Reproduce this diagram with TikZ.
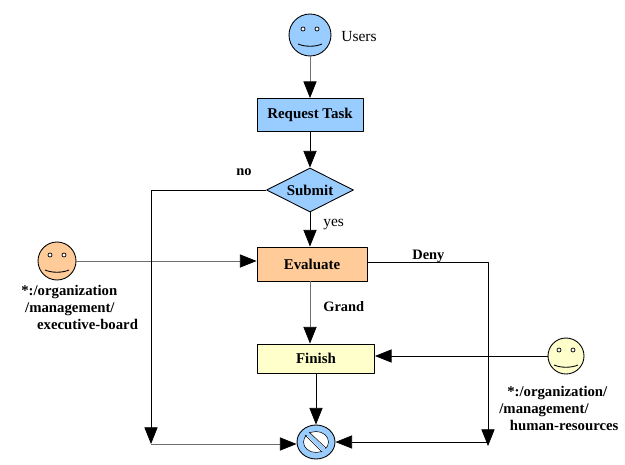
\documentclass[tikz,border=0pt]{standalone}
\usepackage{fontspec}
\setmainfont{Liberation Serif}
\usetikzlibrary{positioning}
\usetikzlibrary{arrows.meta, shapes.geometric}

\definecolor{skyfill}{HTML}{99CCFF}
\definecolor{peachfill}{HTML}{FFCC99}
\definecolor{creamfill}{HTML}{FFFFCC}
\definecolor{greyline}{HTML}{707070}

\tikzset{
  taskbox/.style={draw=black, rectangle, line width=0.5pt, inner sep=0pt, font=\bfseries\fontsize{8.5}{10}\selectfont},
  facenode/.style={draw=black, circle, line width=0.5pt, inner sep=0pt},
  flow/.style={-{Triangle[length=9.5pt, width=7.5pt, color=black]}, black, line width=0.45pt},
  flowgrey/.style={-{Triangle[length=9.5pt, width=7.5pt, color=black]}, greyline, line width=0.45pt},
  lbl/.style={font=\bfseries\fontsize{8.2}{10}\selectfont, inner sep=0pt},
  lblreg/.style={font=\fontsize{8.8}{10}\selectfont, inner sep=0pt},
  role/.style={font=\bfseries\fontsize{8.4}{9.7}\selectfont, align=left, inner sep=0pt},
  smile/.pic={
    \draw[fill=white, line width=0.4pt] (-7,6) circle (2) (7,6) circle (2);
    \draw[line width=0.5pt] (-12,-9) .. controls (-5,-12) and (5,-12) .. (12,-9);
  }
}

\begin{document}
\begin{tikzpicture}[x=0.02cm, y=0.02cm, line join=round]
  \useasboundingbox (0,0) rectangle (625,464);

  % people
  \node[facenode, fill=skyfill, minimum size=0.84cm] (users) at (310,429) {};
  \pic at (users) {smile};
  \node[facenode, fill=peachfill, minimum size=0.76cm] (board) at (57,203) {};
  \pic at (board) {smile};
  \node[facenode, fill=creamfill, minimum size=0.72cm] (hr) at (566,108) {};
  \pic at (hr) {smile};

  % tasks
  \node[taskbox, fill=skyfill, minimum width=2.12cm, minimum height=0.66cm] (request) at (310,349) {Request Task};
  \node[taskbox, diamond, aspect=2, fill=skyfill, minimum width=1.74cm, minimum height=0.88cm] (submit) at (310,274) {Submit};
  \node[taskbox, fill=peachfill, minimum width=2.2cm, minimum height=0.68cm] (evaluate) at (312,200) {Evaluate};
  \node[taskbox, fill=creamfill, minimum width=2.34cm, minimum height=0.58cm] (finish) at (316,105.5) {Finish};

  % stop symbol
  \node[draw=black, ellipse, line width=0.5pt, fill=skyfill, minimum width=0.76cm, minimum height=0.68cm, inner sep=0pt] (stop) at (316,22) {};
  \fill[white, draw=black, line width=0.3pt] (stop.center) ellipse (12.5 and 10.5);
  \draw[skyfill, line width=2.2pt] (306,32) -- (326,12);
  \draw[black, line width=0.3pt] (305,29) -- (322,12) (309,32) -- (326,16);

  % bends
  \coordinate (noend) at (151,20);
  \coordinate (denyturn) at (488,202);
  \coordinate (denyend) at (488,18);

  % connectors
  \draw[flowgrey] (users) -- (request);
  \draw[flow] (request) -- (submit);
  \draw[flow] (submit) -- (submit |- evaluate.north);
  \draw[flowgrey] (board) -- (evaluate.west |- board);
  \draw[flowgrey] (evaluate.south -| submit) -- (submit |- finish.north);
  \draw[flow] (hr) -- (finish.east |- hr);
  \draw[flow] (finish) -- (stop);
  \draw[flow] (submit.west) -- (submit.west -| noend) -- (noend);
  \draw[flowgrey] (noend) -- (stop.west |- noend);
  \draw[flow] (evaluate.east |- denyturn) -- (denyturn) -- (denyend);
  \draw[flow] (denyturn |- stop) -- (stop.east);

  % labels
  \node[lblreg, anchor=west] (userslbl) at (341,427) {Users};
  \node[lbl, anchor=west] (nolbl) at (236,292) {no};
  \node[lblreg, anchor=west] (yeslbl) at (323,239) {yes};
  \node[lbl, anchor=west] (denylbl) at (412,208) {Deny};
  \node[lbl, anchor=west] (grandlbl) at (323,157) {Grand};
  \node[role, anchor=north west] (boardlbl) at (21,179.5) {*:/organization\\\hspace*{2.2pt}/management/\\\hspace*{9pt}executive-board};
  \node[role, anchor=north west] (hrlbl) at (499,78.5) {\hspace*{4.5pt}*:/organization/\\/management/\\\hspace*{6pt}human-resources};
\end{tikzpicture}
\end{document}
